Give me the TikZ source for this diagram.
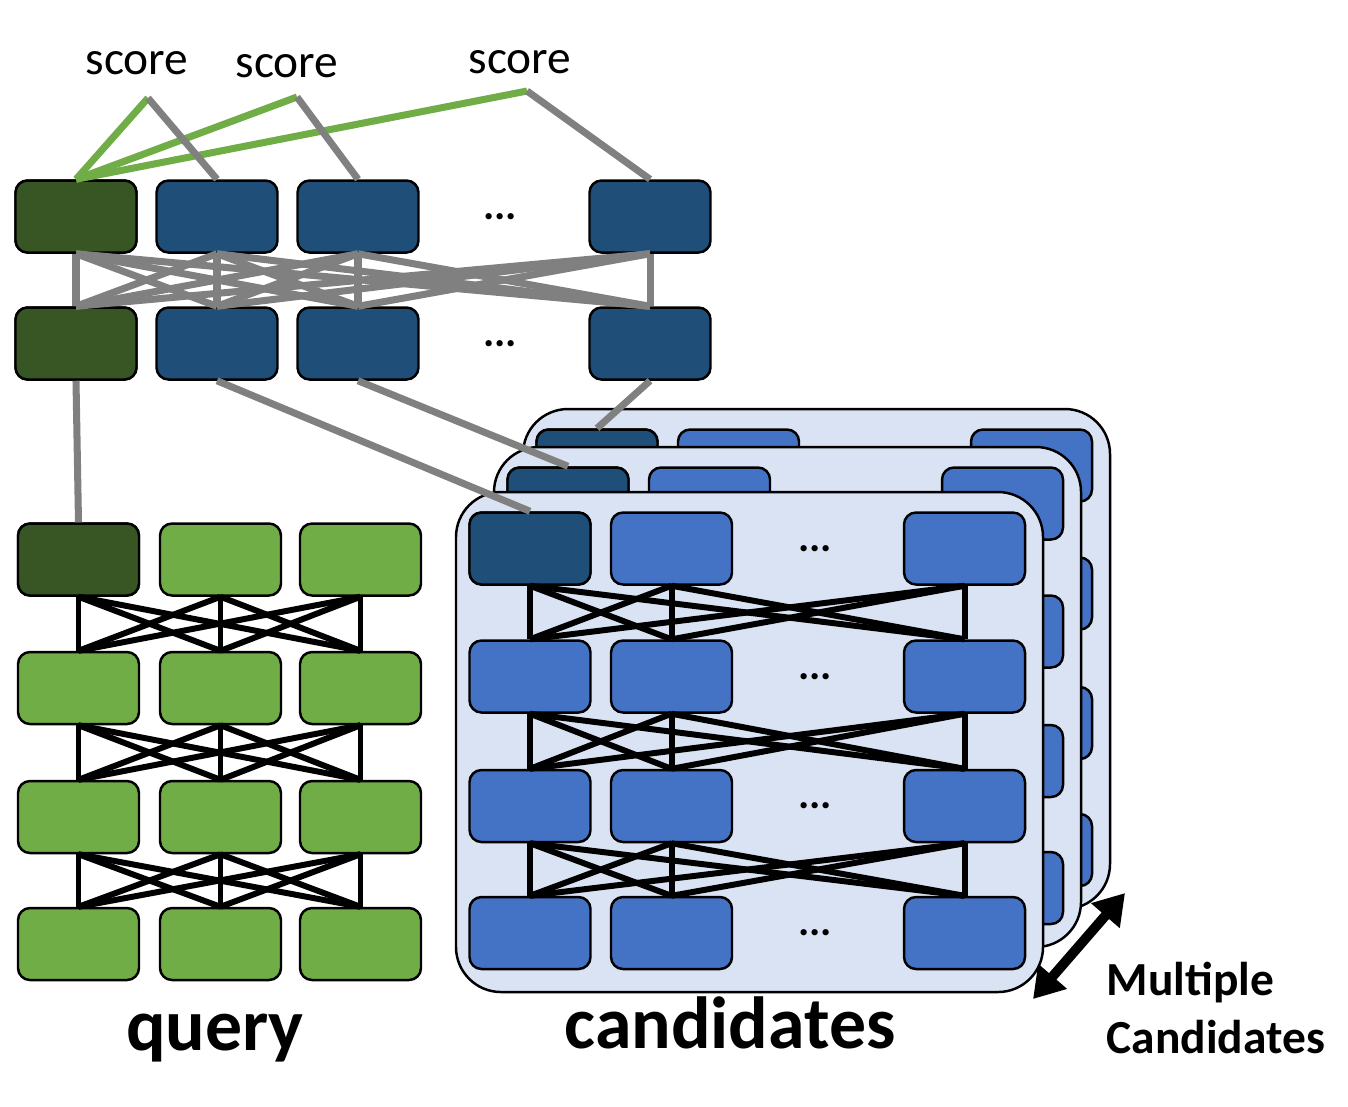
\documentclass[tikz,border=0pt]{standalone}
\usepackage{fontspec}
\setmainfont{Carlito}
\usetikzlibrary{arrows.meta}

\definecolor{dkgreen}{HTML}{375623}
\definecolor{qgreen}{HTML}{70AD47}
\definecolor{dkblue}{HTML}{1F4E79}
\definecolor{cblue}{HTML}{4472C4}
\definecolor{cardbg}{HTML}{DAE3F3}
\definecolor{lgray}{HTML}{808080}

\begin{document}
\begin{tikzpicture}[
  x=0.1mm, y=-0.1mm,
  cell/.style={draw=black, line width=0.7pt, rounded corners=1.2mm, minimum width=12.1mm, minimum height=7.2mm, inner sep=0pt},
  qcell/.style={cell, fill=qgreen},
  ccell/.style={cell, fill=cblue},
  card/.style={draw=black, line width=0.7pt, fill=cardbg, rounded corners=4.5mm},
  link/.style={draw, line width=1.7pt, black},
  glink/.style={draw, line width=2pt, lgray},
  slink/.style={draw, line width=2pt, qgreen},
  dots/.style={font=\fontsize{12}{14}\selectfont\bfseries},
  scorelabel/.style={font=\fontsize{13.5}{15}\selectfont, inner sep=0pt},
  biglabel/.style={font=\fontsize{21}{24}\selectfont\bfseries, inner sep=0pt}
]
\useasboundingbox (0,0) rectangle (1348,1106);

% interaction layers
\foreach \c/\x in {1/76,2/217,3/358,4/650} {
  \node[cell, fill=dkblue] (ia\c) at (\x,216.5) {};
  \node[cell, fill=dkblue] (ib\c) at (\x,343.5) {};
}
\node[cell, fill=dkgreen] (ia1) at (76,216.5) {};
\node[cell, fill=dkgreen] (ib1) at (76,343.5) {};
\node[dots] (da) at (500,216.5) {...};
\node[dots] (db) at (500,343.5) {...};
\foreach \a in {1,...,4}
  \foreach \b in {1,...,4}
    \draw[glink] (ia\a.south) -- (ib\b.north);

% scores
\node[scorelabel] (score1) at (137,63) {score};
\node[scorelabel] (score2) at (287,66) {score};
\node[scorelabel] (score3) at (520,62) {score};
\coordinate (p1) at (148,98);
\coordinate (p2) at (297,97);
\coordinate (p3) at (527,91);
\draw[slink] (p1) -- (ia1.north);
\draw[slink] (p2) -- (ia1.north);
\draw[slink] (p3) -- (ia1.north);
\draw[glink] (p1) -- (ia2.north);
\draw[glink] (p2) -- (ia3.north);
\draw[glink] (p3) -- (ia4.north);

% query tower
\foreach \r/\y in {1/559.5,2/688,3/817,4/944}
  \foreach \c/\x in {1/78.5,2/220.5,3/360.5}
    \node[qcell] (q\r-\c) at (\x,\y) {};
\node[cell, fill=dkgreen] (q1-1) at (78.5,559.5) {};
\foreach \r [evaluate=\r as \s using int(\r+1)] in {1,2,3}
  \foreach \a in {1,2,3}
    \foreach \b in {1,2,3}
      \draw[link] (q\r-\a.south) -- (q\s-\b.north);
\draw[glink] (ib1.south) -- (q1-1.north);

% candidate towers
\foreach \k/\dx/\dy in {2/67/-83,1/38/-45,0/0/0} {
  \begin{scope}[shift={(\dx,\dy)}]
    \draw[card] (456,492) rectangle (1043,992);
    \foreach \r/\y in {1/548.5,2/676.5,3/806,4/933} {
      \foreach \c/\x in {1/530,2/671.5,3/964.5}
        \node[ccell] (c\k-\r-\c) at (\x,\y) {};
      \node[dots] at (815,\y) {...};
    }
    \node[cell, fill=dkblue] (c\k-1-1) at (530,548.5) {};
    \foreach \r [evaluate=\r as \s using int(\r+1)] in {1,2,3}
      \foreach \a in {1,2,3}
        \foreach \b in {1,2,3}
          \draw[link] (c\k-\r-\a.south) -- (c\k-\s-\b.north);
  \end{scope}
}
\draw[glink] (ib2.south) -- (c0-1-1.north);
\draw[glink] (ib3.south) -- (c1-1-1.north);
\draw[glink] (ib4.south) -- (c2-1-1.north);

% labels
\node[biglabel, anchor=base] (query) at (215,1050) {query};
\node[biglabel, anchor=base] (cands) at (730,1048) {candidates};
\coordinate (m1) at (1033,999);
\coordinate (m2) at (1125,893);
\draw[{Triangle[length=3mm,width=3.6mm]}-{Triangle[length=3mm,width=3.6mm]}, line width=2.8pt] (m1) -- (m2);
\node[font=\fontsize{13.5}{16.5}\selectfont\bfseries, align=left, anchor=base west, inner sep=0pt] (multi) at (1106,1053) {Multiple\\Candidates};
\end{tikzpicture}
\end{document}
